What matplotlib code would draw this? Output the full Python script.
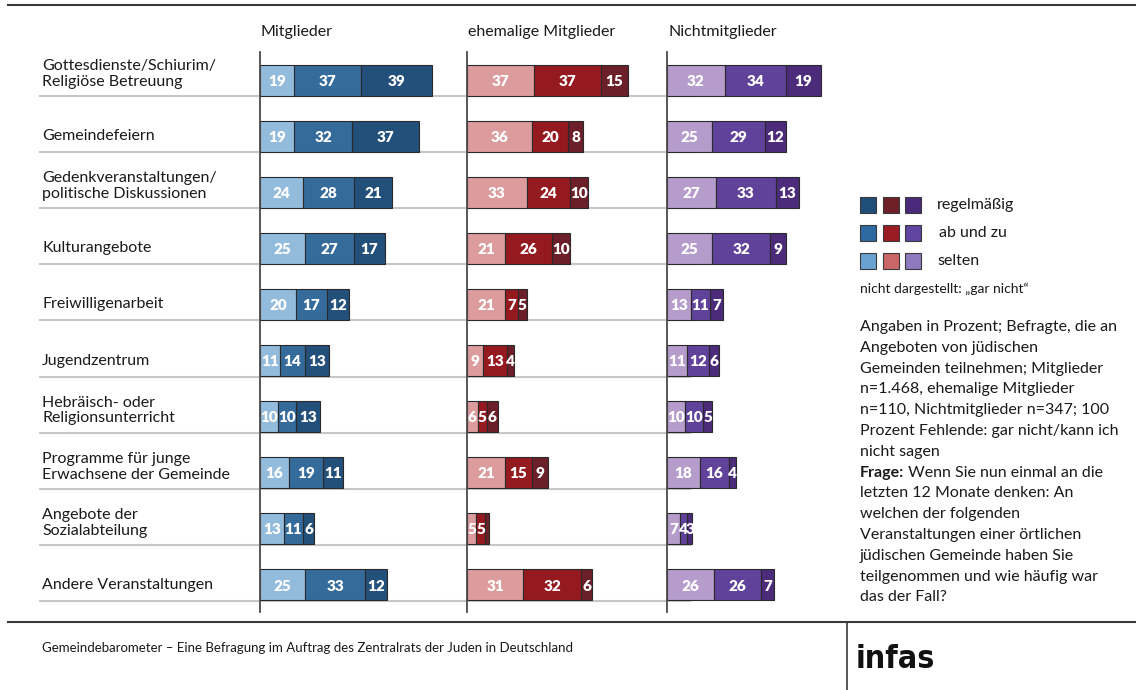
import numpy as np
import matplotlib.pyplot as plt

plt.rcParams['font.family'] = ['Lato', 'DejaVu Sans']

# ------------------------------------------------------------------ #
# Data (Prozent)
# ------------------------------------------------------------------ #
categories = [
    'Gottesdienste/Schiurim/\nReligiöse Betreuung',
    'Gemeindefeiern',
    'Gedenkveranstaltungen/\npolitische Diskussionen',
    'Kulturangebote',
    'Freiwilligenarbeit',
    'Jugendzentrum',
    'Hebräisch- oder\nReligionsunterricht',
    'Programme für junge\nErwachsene der Gemeinde',
    'Angebote der\nSozialabteilung',
    'Andere Veranstaltungen',
]
groups = ['Mitglieder', 'ehemalige Mitglieder', 'Nichtmitglieder']
levels = ['regelmäßig', 'ab und zu', 'selten']

mitglieder_selten = [19, 19, 24, 25, 20, 11, 10, 16, 13, 25]
mitglieder_abundzu = [37, 32, 28, 27, 17, 14, 10, 19, 11, 33]
mitglieder_regel = [39, 37, 21, 17, 12, 13, 13, 11, 6, 12]

ehemalige_selten = [37, 36, 33, 21, 21, 9, 6, 21, 5, 31]
ehemalige_abundzu = [37, 20, 24, 26, 7, 13, 5, 15, 5, 32]
ehemalige_regel = [15, 8, 10, 10, 5, 4, 6, 9, 2, 6]

nicht_selten = [32, 25, 27, 25, 13, 11, 10, 18, 7, 26]
nicht_abundzu = [34, 29, 33, 32, 11, 12, 10, 16, 4, 26]
nicht_regel = [19, 12, 13, 9, 7, 6, 5, 4, 3, 7]

series = [
    (mitglieder_selten, mitglieder_abundzu, mitglieder_regel),
    (ehemalige_selten, ehemalige_abundzu, ehemalige_regel),
    (nicht_selten, nicht_abundzu, nicht_regel),
]

# bar colours per group: selten, ab und zu, regelmäßig
bar_colors = [
    ('#93bbdc', '#356b9b', '#23507a'),
    ('#dc9c9d', '#951a20', '#6b1f28'),
    ('#b59ccb', '#60429a', '#4b2b7a'),
]
# legend swatches (rows: regelmäßig, ab und zu, selten)
legend_colors = [
    ('#1f4e79', '#6f1f27', '#4a2a7b'),
    ('#2e6aa1', '#9a1b22', '#5f44a0'),
    ('#6aa2d2', '#cc6566', '#8e78be'),
]

notes = [
    'Angaben in Prozent; Befragte, die an',
    'Angeboten von jüdischen',
    'Gemeinden teilnehmen; Mitglieder',
    'n=1.468, ehemalige Mitglieder',
    'n=110, Nichtmitglieder n=347; 100',
    'Prozent Fehlende: gar nicht/kann ich',
    'nicht sagen',
    None,
    'letzten 12 Monate denken: An',
    'welchen der folgenden',
    'Veranstaltungen einer örtlichen',
    'jüdischen Gemeinde haben Sie',
    'teilgenommen und wie häufig war',
    'das der Fall?',
]

# ------------------------------------------------------------------ #
# Layout (pixels)
# ------------------------------------------------------------------ #
W, H = 1136, 690
PX_PER_UNIT = 1.81
ROW0, ROW_STEP = 80, 56.1
AX_TOP, AX_BOT = 52, 612
BAR_PX = 31
PANEL_X = [260, 467, 667]
PANEL_UNITS = 110
TXT = '#1a1a1a'
FS = 11.5

fig = plt.figure(figsize=(W / 100, H / 100), dpi=100)
bg = fig.add_axes([0, 0, 1, 1])
bg.set_xlim(0, W)
bg.set_ylim(H, 0)
bg.axis('off')

# frame lines
bg.plot([8, W], [5, 5], color='#3a3a3a', lw=1.5)
bg.plot([8, W], [622, 622], color='#3a3a3a', lw=1.5)
bg.plot([847, 847], [622, H], color='#3a3a3a', lw=1.2)

# row separators and category labels
for i, cat in enumerate(categories):
    yc = ROW0 + ROW_STEP * i
    yb = yc + BAR_PX / 2 + 0.5
    bg.plot([40, 690], [yb, yb], color='#c6c6c6', lw=1.5, zorder=0)
    dy = -6 if '\n' in cat else 0
    bg.text(42, yc + dy, cat, fontsize=FS, color=TXT, va='center',
            ha='left', linespacing=1.15)

# panels
for p, (x0, grp) in enumerate(zip(PANEL_X, groups)):
    bg.text(x0 + 1, 32, grp, fontsize=FS, color=TXT, va='center', ha='left')
    ax = fig.add_axes([x0 / W, 1 - AX_BOT / H,
                       PANEL_UNITS * PX_PER_UNIT / W, (AX_BOT - AX_TOP) / H])
    ax.patch.set_visible(False)
    ax.set_xlim(0, PANEL_UNITS)
    ax.set_ylim((AX_BOT - ROW0) / ROW_STEP, (AX_TOP - ROW0) / ROW_STEP)
    for s in ['top', 'right', 'bottom']:
        ax.spines[s].set_visible(False)
    ax.spines['left'].set_color('#4a4a4a')
    ax.spines['left'].set_linewidth(1.3)
    ax.set_xticks([])
    ax.set_yticks([])

    y = np.arange(len(categories))
    left = np.zeros(len(categories))
    for vals, col in zip(series[p], bar_colors[p]):
        vals = np.array(vals, dtype=float)
        ax.barh(y, vals, left=left, height=BAR_PX / ROW_STEP, color=col,
                edgecolor='#2a2a2a', linewidth=0.8, zorder=2)
        for yi, (l, v) in enumerate(zip(left, vals)):
            if v >= 3:
                ax.text(l + v / 2, yi + 0.02, f'{int(v)}', ha='center',
                        va='center', color='white', fontsize=11,
                        fontweight='heavy', zorder=3)
        left += vals

# legend
for r, (lab, cols) in enumerate(zip(levels, legend_colors)):
    yc = 205 + 28 * r
    for k, c in enumerate(cols):
        bg.add_patch(plt.Rectangle((860 + 22.5 * k, yc - 8), 16, 16,
                                   facecolor=c, edgecolor='#3a3a3a', lw=0.8))
    bg.text(937 + (2 if r == 1 else 0), yc, lab, fontsize=FS, color=TXT,
            va='center', ha='left')
bg.text(860, 289, 'nicht dargestellt: \u201egar nicht\u201c', fontsize=10,
        color=TXT, va='center', ha='left')

# notes
for k, line in enumerate(notes):
    yl = 327 + 20.8 * k
    if line is None:
        t = bg.text(860, yl, 'Frage:', fontsize=FS, fontweight='bold',
                    color=TXT, va='center', ha='left')
        bg.annotate(' Wenn Sie nun einmal an die', xy=(1, 0), xycoords=t,
                    fontsize=FS, color=TXT, va='bottom', ha='left')
    else:
        bg.text(860, yl, line, fontsize=FS, color=TXT, va='center',
                ha='left')

# footer
bg.text(42, 648, 'Gemeindebarometer \u2013 Eine Befragung im Auftrag des '
        'Zentralrats der Juden in Deutschland', fontsize=9.5, color=TXT,
        va='center', ha='left')
bg.text(856, 659, 'infas', fontsize=23, color='#111111', va='center',
        ha='left', family='DejaVu Sans', fontstretch='condensed',
        fontweight='bold')

fig.savefig('out.png', dpi=100)
